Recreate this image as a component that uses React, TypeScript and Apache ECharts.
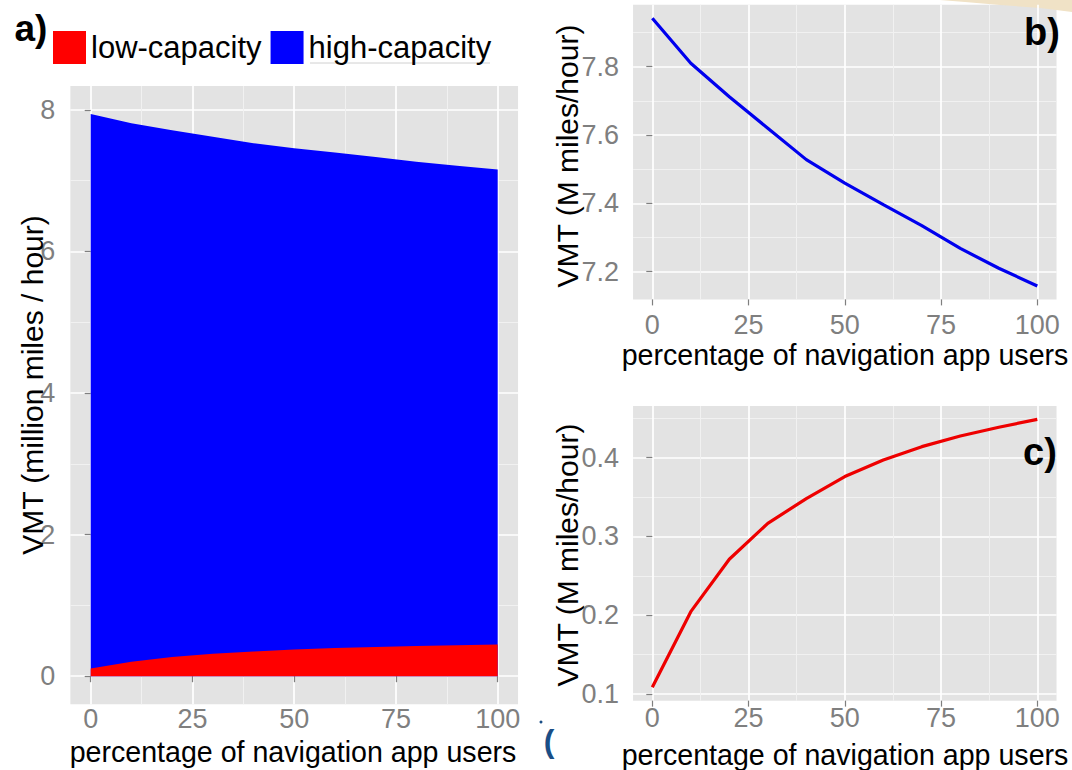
import React, { useEffect, useRef } from "react";
import * as echarts from "echarts";

// ---- data ----
const pct = [0, 10, 20, 30, 40, 50, 60, 70, 80, 90, 100];
const totalVMT = [7.942, 7.81, 7.712, 7.62, 7.528, 7.459, 7.396, 7.335, 7.268, 7.21, 7.158];
const lowVMT = [0.1085, 0.2045, 0.271, 0.3167, 0.348, 0.376, 0.397, 0.414, 0.4275, 0.4386, 0.4487];
const seriesNames = ["low-capacity", "high-capacity"];
const xMajor = [0, 25, 50, 75, 100];
const xMinor = [12.5, 37.5, 62.5, 87.5];
const yMajorA = [0, 2, 4, 6, 8];
const yMinorA = [1, 3, 5, 7];
const yMajorB = [7.2, 7.4, 7.6, 7.8];
const yMinorB = [7.3, 7.5, 7.7, 7.9];
const yMajorC = [0.1, 0.2, 0.3, 0.4];
const yMinorC = [0.15, 0.25, 0.35, 0.45];
const xTitle = "percentage of navigation app users";
const yTitleA = "VMT (million miles / hour)";
const yTitleBC = "VMT (M miles/hour)";

const FONT = '"Liberation Sans", Arial, sans-serif';
const TICK = "#7f7f7f";
const PANEL = "#e3e3e3";
const MINOR = "#f1f1f1";

function minorX(grid: number) {
  return {
    type: "value", gridIndex: grid, min: -5, max: 105, position: "top",
    axisLine: { show: false },
    axisTick: { show: false, customValues: xMinor },
    axisLabel: { show: false, customValues: xMinor },
    splitLine: { show: true, lineStyle: { color: MINOR, width: 1 } },
  };
}
function majorX(grid: number, margin: number) {
  return {
    type: "value", gridIndex: grid, min: -5, max: 105, position: "bottom",
    axisLine: { show: false },
    axisTick: { show: true, customValues: xMajor, length: 6, lineStyle: { color: TICK, width: 1.2 } },
    axisLabel: { customValues: xMajor, margin, color: TICK, fontSize: 27, fontFamily: FONT },
    splitLine: { show: true, lineStyle: { color: "#ffffff", width: 1.7 } },
  };
}
function minorY(grid: number, min: number, max: number, vals: number[]) {
  return {
    type: "value", gridIndex: grid, min, max, position: "right",
    axisLine: { show: false },
    axisTick: { show: false, customValues: vals },
    axisLabel: { show: false, customValues: vals },
    splitLine: { show: true, lineStyle: { color: MINOR, width: 1 } },
  };
}
function majorY(grid: number, min: number, max: number, vals: number[], margin: number) {
  return {
    type: "value", gridIndex: grid, min, max, position: "left",
    axisLine: { show: false },
    axisTick: { show: true, customValues: vals, length: 6, lineStyle: { color: TICK, width: 1.2 } },
    axisLabel: { customValues: vals, margin, color: TICK, fontSize: 27, fontFamily: FONT, formatter: (v: number) => String(v) },
    splitLine: { show: true, lineStyle: { color: "#ffffff", width: 1.7 } },
  };
}

function txt(text: string, x: number, y: number, size: number, opts: any = {}) {
  return {
    type: "text", x, y, rotation: opts.rotation || 0, z: 10,
    style: {
      text, fill: opts.color || "#000", fontSize: size, fontFamily: FONT,
      fontWeight: opts.bold ? "bold" : "normal", align: "center", verticalAlign: "middle",
    },
  };
}

export default function App() {
  const ref = useRef<HTMLDivElement>(null);
  useEffect(() => {
    if (!ref.current) return;
    const chart = echarts.init(ref.current, undefined, { renderer: "svg" });
    const pairs = (ys: number[]) => pct.map((p, i) => [p, ys[i]]);
    const option: any = {
      animation: false,
      backgroundColor: "#ffffff",
      grid: [
        { left: 70.35, top: 86, width: 447.7, height: 618.3, show: true, backgroundColor: PANEL, borderWidth: 0, outerBoundsMode: "none" },
        { left: 633.05, top: 4.8, width: 423.5, height: 294.6, show: true, backgroundColor: PANEL, borderWidth: 0, outerBoundsMode: "none" },
        { left: 633.05, top: 405.95, width: 423.5, height: 294.7, show: true, backgroundColor: PANEL, borderWidth: 0, outerBoundsMode: "none" },
      ],
      xAxis: [minorX(0), majorX(0, 1), minorX(1), majorX(1, 12), minorX(2), majorX(2, 4)],
      yAxis: [
        minorY(0, -0.397, 8.337, yMinorA), majorY(0, -0.397, 8.337, yMajorA, 15),
        minorY(1, 7.1188, 7.9812, yMinorB), majorY(1, 7.1188, 7.9812, yMajorB, 14),
        minorY(2, 0.0915, 0.4657, yMinorC), majorY(2, 0.0915, 0.4657, yMajorC, 14),
      ],
      legend: {
        left: 53, top: 31, itemWidth: 33, itemHeight: 33, itemGap: 9, icon: "rect", padding: 0,
        selectedMode: false, data: seriesNames,
        textStyle: { fontSize: 31, color: "#000", fontFamily: FONT },
      },
      series: [
        {
          name: seriesNames[1], type: "line", xAxisIndex: 1, yAxisIndex: 1, data: pairs(totalVMT),
          symbol: "none", color: "#0000ff", lineStyle: { width: 0 },
          areaStyle: { color: "#0000ff", opacity: 1, origin: 0 },
        },
        {
          name: seriesNames[0], type: "line", xAxisIndex: 1, yAxisIndex: 1, data: pairs(lowVMT),
          symbol: "none", color: "#ff0000", lineStyle: { width: 0 },
          areaStyle: { color: "#ff0000", opacity: 1, origin: 0 },
        },
        {
          name: "total", type: "line", xAxisIndex: 3, yAxisIndex: 3, data: pairs(totalVMT),
          symbol: "none", color: "#0000ee", lineStyle: { width: 3.2, color: "#0000ee" },
        },
        {
          name: "low", type: "line", xAxisIndex: 5, yAxisIndex: 5, data: pairs(lowVMT),
          symbol: "none", color: "#ee0000", lineStyle: { width: 3.2, color: "#ee0000" },
        },
      ],
      graphic: [
        txt("a)", 31, 28, 37, { bold: true }),
        txt("b)", 1042, 32, 38, { bold: true }),
        txt("c)", 1040, 452, 38, { bold: true }),
        txt(yTitleA, 32, 385, 30, { rotation: Math.PI / 2 }),
        txt(yTitleBC, 567, 156, 30, { rotation: Math.PI / 2 }),
        txt(yTitleBC, 567, 555, 30, { rotation: Math.PI / 2 }),
        txt(xTitle, 293, 752, 28.6),
        txt(xTitle, 845, 355, 28.6),
        txt(xTitle, 845, 755, 28.6),
        { type: "line", shape: { x1: 310, y1: 63, x2: 490, y2: 63 }, style: { stroke: "#d0d0d0", lineWidth: 1 } },
        {
          type: "polygon",
          shape: { points: [[940, 0], [1072, 0], [1072, 12], [1040, 8], [1000, 5], [965, 2]] },
          style: { fill: "#f0e2c6" },
        },
        txt("(", 549, 741, 32, { color: "#1a4e86", bold: true }),
        { type: "circle", shape: { cx: 541, cy: 722, r: 1.5 }, style: { fill: "#1a4e86" } },
      ],
    };
    chart.setOption(option);
    return () => chart.dispose();
  }, []);
  return (
    <div
      ref={ref}
      style={{ position: "absolute", left: 0, top: 0, width: 1072, height: 770, background: "#fff" }}
    />
  );
}
